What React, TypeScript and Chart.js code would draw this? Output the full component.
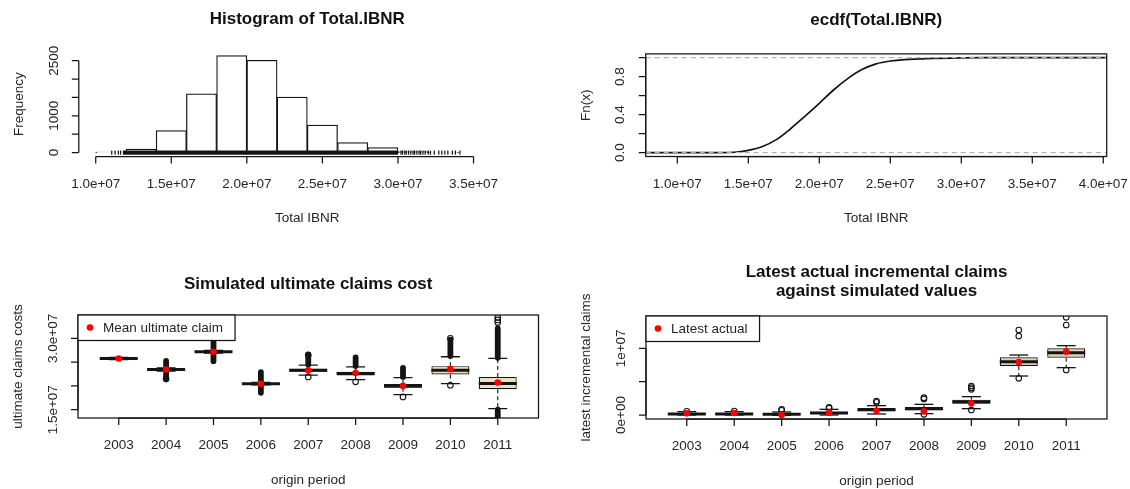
import React, { useEffect, useRef } from 'react';
import { Chart, registerables } from 'chart.js';

Chart.register(...registerables);

// ---------------- data ----------------
// Histogram of Total.IBNR
const histBreaks = [1.0e7, 1.2e7, 1.4e7, 1.6e7, 1.8e7, 2.0e7, 2.2e7, 2.4e7, 2.6e7, 2.8e7, 3.0e7, 3.2e7, 3.4e7];
const histCounts = [15, 95, 600, 1600, 2640, 2510, 1510, 750, 270, 135, 30, 10];
const rugDenseRange = [1.18e7, 3.0e7];
const rugTail = [1.106e7, 1.128e7, 1.15e7, 1.165e7, 3.02e7, 3.03e7, 3.045e7, 3.055e7, 3.07e7, 3.085e7, 3.1e7, 3.11e7, 3.125e7, 3.14e7, 3.15e7, 3.165e7, 3.18e7, 3.2e7, 3.215e7, 3.24e7, 3.27e7, 3.29e7, 3.31e7, 3.33e7, 3.36e7, 3.38e7, 3.41e7];
const histXLim = [0.888e7, 3.912e7];
const histYLim = [-105.6, 2745.6];
const histXTicks = [1.0e7, 1.5e7, 2.0e7, 2.5e7, 3.0e7, 3.5e7];
const histXLabels = ['1.0e+07', '1.5e+07', '2.0e+07', '2.5e+07', '3.0e+07', '3.5e+07'];
const histYTicks = [0, 500, 1000, 1500, 2000, 2500];
const histYLabels = ['0', '', '1000', '', '', '2500'];

// ecdf(Total.IBNR)
const ecdfX = [0.7e7, 1.24e7, 1.4e7, 1.5e7, 1.6e7, 1.7e7, 1.8e7, 1.9e7, 2.0e7, 2.1e7, 2.2e7, 2.3e7, 2.4e7, 2.5e7, 2.6e7, 2.8e7, 3.0e7, 3.17e7, 4.1e7];
const ecdfY = [0, 0, 0.005, 0.025, 0.065, 0.14, 0.255, 0.385, 0.52, 0.66, 0.78, 0.875, 0.935, 0.965, 0.98, 0.992, 0.998, 1, 1];
const ecdfRefLevels = [0, 1];
const ecdfXLim = [0.7775e7, 4.024e7];
const ecdfYLim = [-0.04, 1.04];
const ecdfXTicks = [1.0e7, 1.5e7, 2.0e7, 2.5e7, 3.0e7, 3.5e7, 4.0e7];
const ecdfXLabels = ['1.0e+07', '1.5e+07', '2.0e+07', '2.5e+07', '3.0e+07', '3.5e+07', '4.0e+07'];
const ecdfYTicks = [0, 0.2, 0.4, 0.6, 0.8, 1.0];
const ecdfYLabels = ['0.0', '', '0.4', '', '0.8', ''];

// origin periods
const years = ['2003', '2004', '2005', '2006', '2007', '2008', '2009', '2010', '2011'];
const boxXLim = [0.14, 9.86];

// Simulated ultimate claims cost
const ultLow = [2.555e7, 2.31e7, 2.69e7, 2.02e7, 2.225e7, 2.134e7, 1.817e7, 2.049e7, 1.521e7];
const ultQ1 = [2.57e7, 2.335e7, 2.71e7, 2.037e7, 2.3e7, 2.22e7, 1.96e7, 2.239e7, 1.93e7];
const ultMed = [2.577e7, 2.345e7, 2.718e7, 2.045e7, 2.331e7, 2.261e7, 2.0e7, 2.331e7, 2.049e7];
const ultQ3 = [2.585e7, 2.355e7, 2.726e7, 2.055e7, 2.36e7, 2.3e7, 2.04e7, 2.415e7, 2.19e7];
const ultHigh = [2.6e7, 2.38e7, 2.745e7, 2.075e7, 2.437e7, 2.401e7, 2.176e7, 2.613e7, 2.577e7];
const ultMean = [2.577e7, 2.345e7, 2.718e7, 2.045e7, 2.33e7, 2.27e7, 2.0e7, 2.352e7, 2.07e7];
const ultRunHigh: (number[] | null)[] = [null, [2.39e7, 2.525e7], [2.75e7, 2.95e7], [2.08e7, 2.29e7], [2.45e7, 2.66e7], [2.42e7, 2.6e7], [2.19e7, 2.38e7], [2.63e7, 2.97e7], [2.59e7, 3.21e7]];
const ultRunLow: (number[] | null)[] = [null, [2.3e7, 2.14e7], [2.685e7, 2.52e7], [2.015e7, 1.855e7], null, null, null, null, [1.5e7, 1.335e7]];
const ultOutliers = [[], [2.15e7], [], [], [2.648e7, 2.19e7], [2.085e7], [1.768e7], [3.0e7, 2.014e7], [3.33e7, 3.387e7, 3.437e7]];
const ultYLim = [1.326e7, 3.49e7];
const ultYTicks = [1.5e7, 2.0e7, 2.5e7, 3.0e7];
const ultYLabels = ['1.5e+07', '', '', '3.0e+07'];

// Latest actual incremental claims against simulated values
const incLow = [0.0, 0.0, -0.05e6, 0.0, 0.15e6, 0.2e6, 0.95e6, 5.85e6, 7.1e6];
const incQ1 = [0.05e6, 0.05e6, 0.0, 0.15e6, 0.55e6, 0.7e6, 1.7e6, 7.35e6, 8.6e6];
const incMed = [0.15e6, 0.15e6, 0.1e6, 0.3e6, 0.8e6, 0.95e6, 2.0e6, 8.0e6, 9.35e6];
const incQ3 = [0.3e6, 0.3e6, 0.25e6, 0.5e6, 1.05e6, 1.2e6, 2.3e6, 8.65e6, 10.0e6];
const incHigh = [0.5e6, 0.5e6, 0.45e6, 0.85e6, 1.4e6, 1.6e6, 2.75e6, 9.0e6, 10.4e6];
const incLatest = [0.25e6, 0.3e6, 0.0, 0.35e6, 0.65e6, 0.55e6, 1.75e6, 7.95e6, 9.5e6];
const incOutliers = [[0.55e6], [0.6e6], [0.7e6, 0.85e6], [1.0e6, 1.15e6], [1.9e6, 2.1e6], [0.1e6, 2.4e6, 2.6e6], [0.75e6, 3.85e6, 4.1e6, 4.35e6], [5.5e6, 11.85e6, 12.75e6], [6.75e6, 13.5e6, 14.65e6]];
const incNoRuns: (number[] | null)[] = [null, null, null, null, null, null, null, null, null];
const incYLim = [-0.6e6, 14.85e6];
const incYTicks = [0, 5e6, 1e7];
const incYLabels = ['0e+00', '', '1e+07'];

// ---------------- styling ----------------
const INK = '#141414';
const TEXT = '#262626';
const RED = '#ff0000';
const FONT = '"Liberation Sans", Arial, Helvetica, sans-serif';
const FS = 13.5;
const TFS = 17;
const TICK = 7;

type Axis = { ticks: number[]; labels: string[] };
type RCfg = {
  title: string[];
  titleY: number[];
  xTitle: string;
  yTitle: string;
  x: Axis;
  y: Axis;
  box: boolean;
  legend?: string;
};

function rPlugin(cfg: RCfg) {
  return {
    id: 'rbase',
    afterDraw(chart: any) {
      const ctx: CanvasRenderingContext2D = chart.ctx;
      const a = chart.chartArea;
      const xs = chart.scales.x;
      const ys = chart.scales.y;
      const cx = (a.left + a.right) / 2;
      const cy = (a.top + a.bottom) / 2;
      ctx.save();
      ctx.strokeStyle = INK;
      ctx.lineWidth = 1.25;
      if (cfg.box) ctx.strokeRect(a.left, a.top, a.right - a.left, a.bottom - a.top);
      const xp = cfg.x.ticks.map((v) => xs.getPixelForValue(v));
      const yp = cfg.y.ticks.map((v) => ys.getPixelForValue(v));
      ctx.beginPath();
      ctx.moveTo(xp[0], a.bottom);
      ctx.lineTo(xp[xp.length - 1], a.bottom);
      xp.forEach((p) => {
        ctx.moveTo(p, a.bottom);
        ctx.lineTo(p, a.bottom + TICK);
      });
      ctx.moveTo(a.left, yp[0]);
      ctx.lineTo(a.left, yp[yp.length - 1]);
      yp.forEach((p) => {
        ctx.moveTo(a.left, p);
        ctx.lineTo(a.left - TICK, p);
      });
      ctx.stroke();

      ctx.fillStyle = TEXT;
      ctx.font = `${FS}px ${FONT}`;
      ctx.textAlign = 'center';
      ctx.textBaseline = 'middle';
      cfg.x.labels.forEach((l, i) => {
        if (l) ctx.fillText(l, xp[i], a.bottom + 27.5);
      });
      cfg.y.labels.forEach((l, i) => {
        if (!l) return;
        ctx.save();
        ctx.translate(a.left - 25, yp[i]);
        ctx.rotate(-Math.PI / 2);
        ctx.fillText(l, 0, 0);
        ctx.restore();
      });
      ctx.fillText(cfg.xTitle, cx, a.bottom + 62);
      ctx.save();
      ctx.translate(a.left - 59.5, cy);
      ctx.rotate(-Math.PI / 2);
      ctx.fillText(cfg.yTitle, 0, 0);
      ctx.restore();

      ctx.fillStyle = '#111';
      ctx.font = `bold ${TFS}px ${FONT}`;
      cfg.title.forEach((t, i) => ctx.fillText(t, cx, cfg.titleY[i]));

      if (cfg.legend) {
        ctx.font = `${FS}px ${FONT}`;
        const tw = ctx.measureText(cfg.legend).width;
        const w = 25 + tw + 12;
        const h = 25.5;
        ctx.fillStyle = '#fff';
        ctx.fillRect(a.left, a.top, w, h);
        ctx.strokeRect(a.left, a.top, w, h);
        ctx.fillStyle = RED;
        ctx.beginPath();
        ctx.arc(a.left + 12, a.top + 12.5, 3.3, 0, Math.PI * 2);
        ctx.fill();
        ctx.fillStyle = TEXT;
        ctx.textAlign = 'left';
        ctx.fillText(cfg.legend, a.left + 25, a.top + 13.5);
      }
      ctx.restore();
    },
  };
}

function baseOptions(pad: any, xLim: number[], yLim: number[]) {
  return {
    animation: false,
    responsive: false,
    devicePixelRatio: 1,
    events: [],
    layout: { padding: pad },
    plugins: { legend: { display: false }, tooltip: { enabled: false }, title: { display: false } },
    scales: {
      x: {
        type: 'linear',
        min: xLim[0],
        max: xLim[1],
        display: false,
        offset: false,
        afterBuildTicks: (s: any) => {
          s.ticks = [];
        },
      },
      y: { type: 'linear', min: yLim[0], max: yLim[1], display: false },
    },
  };
}

function boxDatasets(
  low: number[],
  q1: number[],
  med: number[],
  q3: number[],
  high: number[],
  runsHigh: (number[] | null)[],
  runsLow: (number[] | null)[],
  outliers: number[][],
  centre: number[],
  fill: string
) {
  const xs = years.map((_, i) => i + 1);
  const whisker: any[] = [];
  xs.forEach((x, i) => {
    whisker.push({ x, y: q3[i] }, { x, y: high[i] }, { x, y: null }, { x, y: q1[i] }, { x, y: low[i] }, { x, y: null });
  });
  const runs: any[] = [];
  xs.forEach((x, i) => {
    [runsHigh[i], runsLow[i]].forEach((r) => {
      if (r) runs.push({ x, y: r[0] }, { x, y: r[1] }, { x, y: null });
    });
  });
  const caps = xs.flatMap((x, i) => [{ x, y: low[i] }, { x, y: high[i] }]);
  const outl = xs.flatMap((x, i) => outliers[i].map((y) => ({ x, y })));
  return [
    {
      type: 'line',
      data: whisker,
      borderColor: INK,
      borderWidth: 1.1,
      borderDash: [4, 3],
      pointRadius: 0,
      spanGaps: false,
      order: 7,
    },
    {
      type: 'line',
      data: runs,
      borderColor: INK,
      borderWidth: 5.8,
      borderCapStyle: 'round',
      pointRadius: 0,
      spanGaps: false,
      order: 6,
    },
    {
      type: 'bar',
      data: xs.map((x, i) => ({ x, y: [q1[i], q3[i]] })),
      backgroundColor: fill,
      borderColor: INK,
      borderWidth: 1.2,
      borderSkipped: false,
      barPercentage: 0.8,
      categoryPercentage: 1,
      order: 5,
    },
    {
      type: 'scatter',
      data: caps,
      pointStyle: 'line',
      pointRadius: 9.5,
      pointBorderWidth: 1.3,
      pointBorderColor: INK,
      order: 4,
    },
    {
      type: 'scatter',
      data: xs.map((x, i) => ({ x, y: med[i] })),
      pointStyle: 'line',
      pointRadius: 19,
      pointBorderWidth: 3,
      pointBorderColor: INK,
      order: 3,
    },
    {
      type: 'scatter',
      data: outl,
      pointStyle: 'circle',
      pointRadius: 2.8,
      pointBorderWidth: 1.1,
      pointBorderColor: INK,
      pointBackgroundColor: 'rgba(0,0,0,0)',
      order: 2,
    },
    {
      type: 'scatter',
      data: xs.map((x, i) => ({ x, y: centre[i] })),
      pointStyle: 'circle',
      pointRadius: 3.3,
      pointBorderWidth: 0,
      pointBackgroundColor: RED,
      order: 1,
    },
  ];
}

const makeHist = () => ({
  type: 'bar',
  data: {
    datasets: [
      {
        type: 'bar',
        data: histCounts.map((c, i) => ({ x: (histBreaks[i] + histBreaks[i + 1]) / 2, y: c })),
        backgroundColor: '#ffffff',
        borderColor: INK,
        borderWidth: 1.25,
        borderSkipped: false,
        barPercentage: 1,
        categoryPercentage: 1,
        order: 3,
      },
      {
        type: 'line',
        data: rugDenseRange.map((x) => ({ x, y: 0 })),
        borderColor: INK,
        borderWidth: 4.2,
        pointRadius: 0,
        order: 1,
      },
      {
        type: 'scatter',
        data: rugTail.map((x) => ({ x, y: 0 })),
        pointStyle: 'line',
        rotation: 90,
        pointRadius: 2.2,
        pointBorderWidth: 1.2,
        pointBorderColor: INK,
        order: 1,
      },
    ],
  },
  options: baseOptions({ left: 78.8, right: 565 - 535.8, top: 51.6, bottom: 245 - 156.5 }, histXLim, histYLim),
  plugins: [
    rPlugin({
      title: ['Histogram of Total.IBNR'],
      titleY: [19.5],
      xTitle: 'Total IBNR',
      yTitle: 'Frequency',
      x: { ticks: histXTicks, labels: histXLabels },
      y: { ticks: histYTicks, labels: histYLabels },
      box: false,
    }),
  ],
});

const makeEcdf = () => ({
  type: 'line',
  data: {
    datasets: [
      ...ecdfRefLevels.map((lvl) => ({
        data: ecdfXLim.map((x) => ({ x, y: lvl })),
        borderColor: '#b3b3b3',
        borderWidth: 1.3,
        borderDash: [5, 4],
        pointRadius: 0,
        order: 1,
      })),
      {
        data: ecdfX.map((x, i) => ({ x, y: ecdfY[i] })),
        borderColor: INK,
        borderWidth: 1.7,
        pointRadius: 0,
        cubicInterpolationMode: 'monotone',
        order: 2,
      },
    ],
  },
  options: baseOptions({ left: 80.7, right: 565 - 541.7, top: 53.9, bottom: 245 - 156.5 }, ecdfXLim, ecdfYLim),
  plugins: [
    rPlugin({
      title: ['ecdf(Total.IBNR)'],
      titleY: [20.5],
      xTitle: 'Total IBNR',
      yTitle: 'Fn(x)',
      x: { ticks: ecdfXTicks, labels: ecdfXLabels },
      y: { ticks: ecdfYTicks, labels: ecdfYLabels },
      box: true,
    }),
  ],
});

const yearTicks = years.map((_, i) => i + 1);

const makeUlt = () => ({
  type: 'bar',
  data: {
    datasets: boxDatasets(ultLow, ultQ1, ultMed, ultQ3, ultHigh, ultRunHigh, ultRunLow, ultOutliers, ultMean, '#efdfc1'),
  },
  options: baseOptions({ left: 78, right: 565 - 538.5, top: 70, bottom: 244 - 173 }, boxXLim, ultYLim),
  plugins: [
    rPlugin({
      title: ['Simulated ultimate claims cost'],
      titleY: [39],
      xTitle: 'origin period',
      yTitle: 'ultimate claims costs',
      x: { ticks: yearTicks, labels: years },
      y: { ticks: ultYTicks, labels: ultYLabels },
      box: true,
      legend: 'Mean ultimate claim',
    }),
  ],
});

const makeInc = () => ({
  type: 'bar',
  data: {
    datasets: boxDatasets(incLow, incQ1, incMed, incQ3, incHigh, incNoRuns, incNoRuns, incOutliers, incLatest, '#ddd3bd'),
  },
  options: baseOptions({ left: 81, right: 565 - 542, top: 71, bottom: 244 - 174 }, boxXLim, incYLim),
  plugins: [
    rPlugin({
      title: ['Latest actual incremental claims', 'against simulated values'],
      titleY: [27.5, 46.5],
      xTitle: 'origin period',
      yTitle: 'latest incremental claims',
      x: { ticks: yearTicks, labels: years },
      y: { ticks: incYTicks, labels: incYLabels },
      box: true,
      legend: 'Latest actual',
    }),
  ],
});

function Panel(props: { left: number; top: number; width: number; height: number; make: () => any }) {
  const ref = useRef<HTMLCanvasElement>(null);
  useEffect(() => {
    const chart = new Chart(ref.current as HTMLCanvasElement, props.make());
    return () => chart.destroy();
  }, []);
  return (
    <canvas
      ref={ref}
      width={props.width}
      height={props.height}
      style={{ position: 'absolute', left: props.left, top: props.top, width: props.width, height: props.height }}
    />
  );
}

export default function App() {
  return (
    <div style={{ position: 'absolute', left: 0, top: 0, width: 1130, height: 489, background: '#ffffff', overflow: 'hidden' }}>
      <Panel left={0} top={0} width={565} height={245} make={makeHist} />
      <Panel left={565} top={0} width={565} height={245} make={makeEcdf} />
      <Panel left={0} top={245} width={565} height={244} make={makeUlt} />
      <Panel left={565} top={245} width={565} height={244} make={makeInc} />
    </div>
  );
}
